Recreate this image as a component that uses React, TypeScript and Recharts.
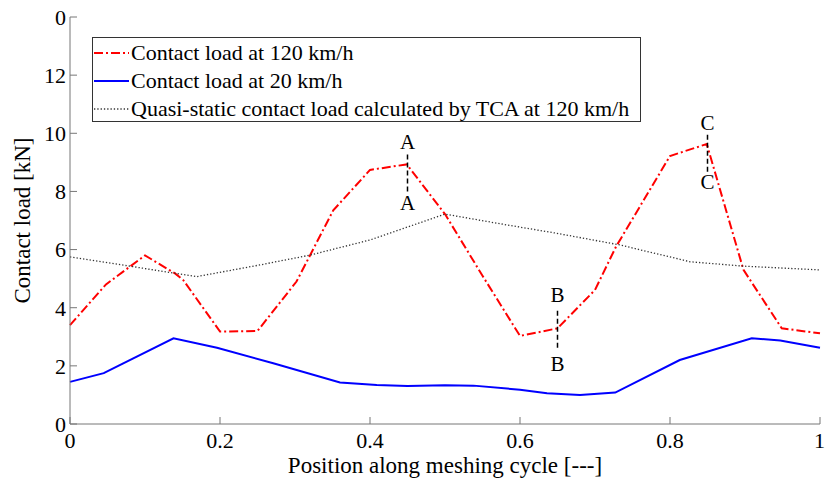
import React from "react";
import {
  LineChart,
  Line,
  XAxis,
  YAxis,
  ReferenceLine,
  ReferenceDot,
} from "recharts";

// contact load at 120 km/h
const posHigh = [0, 0.048, 0.1, 0.14, 0.151, 0.2, 0.25, 0.302, 0.351, 0.4, 0.449, 0.5, 0.55, 0.6, 0.65, 0.7, 0.728, 0.8, 0.849, 0.898, 0.949, 1.0];
const loadHigh = [3.4, 4.8, 5.8, 5.18, 4.95, 3.18, 3.2, 4.9, 7.35, 8.74, 8.93, 7.22, 5.1, 3.03, 3.29, 4.61, 6.1, 9.22, 9.63, 5.3, 3.29, 3.12];

// contact load at 20 km/h
const posLow = [0, 0.045, 0.138, 0.196, 0.271, 0.36, 0.409, 0.45, 0.5, 0.538, 0.6, 0.636, 0.68, 0.727, 0.813, 0.909, 0.947, 1.0];
const loadLow = [1.45, 1.75, 2.95, 2.62, 2.09, 1.43, 1.34, 1.31, 1.33, 1.32, 1.18, 1.06, 1.0, 1.08, 2.2, 2.95, 2.87, 2.62];

// quasi-static (TCA) at 120 km/h
const posTca = [0, 0.169, 0.253, 0.32, 0.4, 0.5, 0.582, 0.649, 0.733, 0.827, 0.898, 1.0];
const loadTca = [5.75, 5.07, 5.47, 5.81, 6.33, 7.22, 6.85, 6.56, 6.16, 5.58, 5.43, 5.3];

const xTicks = [0, 0.2, 0.4, 0.6, 0.8, 1];
const xTickLabels = ["0", "0.2", "0.4", "0.6", "0.8", "1"];
const yTicks = [0, 2, 4, 6, 8, 10, 12, 14];
const yTickLabels = ["0", "2", "4", "6", "8", "10", "12", "0"];

// A / B / C markers
const markNames = ["A", "B", "C"];
const markX = [0.45, 0.65, 0.85];
const markLow = [8.0, 2.62, 8.68];
const markHigh = [9.3, 4.0, 10.05];
const labelTop = [9.73, 4.44, 10.37];
const labelBottom = [7.62, 2.09, 8.33];

const toPoints = (xs: number[], ys: number[]) => xs.map((x, i) => ({ x, y: ys[i] }));

const series = [
  { name: "Contact load at 120 km/h", data: toPoints(posHigh, loadHigh), color: "#ff0000", width: 2, dash: "9 3 2 3" },
  { name: "Contact load at 20 km/h", data: toPoints(posLow, loadLow), color: "#0000ff", width: 2, dash: undefined },
  { name: "Quasi-static contact load calculated by TCA at 120 km/h", data: toPoints(posTca, loadTca), color: "#333333", width: 1.3, dash: "1.3 2" },
];

const FONT = "Liberation Serif, DejaVu Serif, serif";
const AXIS = "#777777";

const ChartLegend = () => (
  <div
    style={{
      position: "absolute",
      left: 92,
      top: 37,
      width: 549,
      height: 85,
      boxSizing: "border-box",
      border: "1px solid #333",
      background: "#fff",
      fontFamily: FONT,
      fontSize: 22,
      paddingTop: 1,
    }}
  >
    {series.map((s) => (
      <div key={s.name} style={{ height: 28, display: "flex", alignItems: "center" }}>
        <svg width={38} height={10} style={{ flex: "none" }}>
          <line x1={1} y1={5} x2={36} y2={5} stroke={s.color} strokeWidth={s.width} strokeDasharray={s.dash} />
        </svg>
        <span style={{ whiteSpace: "nowrap", lineHeight: "28px" }}>{s.name}</span>
      </div>
    ))}
  </div>
);

export default function App() {
  return (
    <div style={{ position: "absolute", left: 0, top: 0, width: 825, height: 484, background: "#fff", fontFamily: FONT }}>
      <LineChart width={825} height={484} margin={{ top: 17, right: 5, bottom: 0, left: 0 }} style={{ fontFamily: FONT }}>
        <XAxis
          dataKey="x"
          type="number"
          domain={[0, 1]}
          ticks={xTicks}
          tickFormatter={(v: number) => xTickLabels[xTicks.indexOf(v)] ?? ""}
          height={60}
          tickSize={-7}
          tickMargin={15}
          stroke={AXIS}
          tick={{ fill: "#000", fontSize: 22, fontFamily: FONT }}
          label={{
            value: "Position along meshing cycle [---]",
            position: "insideBottom",
            offset: 11,
            style: { fill: "#000", fontSize: 23, fontFamily: FONT },
          }}
        />
        <XAxis
          xAxisId="top"
          orientation="top"
          type="number"
          domain={[0, 1]}
          ticks={xTicks}
          height={0}
          tickSize={-7}
          stroke={AXIS}
          tickFormatter={() => ""}
        />
        <YAxis
          type="number"
          domain={[0, 14]}
          ticks={yTicks}
          tickFormatter={(v: number) => yTickLabels[yTicks.indexOf(v)] ?? ""}
          width={70}
          tickSize={-7}
          tickMargin={11}
          stroke={AXIS}
          tick={{ fill: "#000", fontSize: 22, fontFamily: FONT }}
          label={{
            value: "Contact load [kN]",
            angle: -90,
            position: "insideLeft",
            offset: 22,
            style: { textAnchor: "middle", fill: "#000", fontSize: 23, fontFamily: FONT },
          }}
        />
        <YAxis
          yAxisId="right"
          orientation="right"
          type="number"
          domain={[0, 14]}
          ticks={yTicks}
          width={0}
          tickSize={-7}
          stroke={AXIS}
          tickFormatter={() => ""}
        />
        {series.map((s) => (
          <Line
            key={s.name}
            data={s.data}
            dataKey="y"
            name={s.name}
            type="linear"
            stroke={s.color}
            strokeWidth={s.width}
            strokeDasharray={s.dash}
            dot={false}
            activeDot={false}
            isAnimationActive={false}
          />
        ))}
        {markNames.map((m, i) => (
          <ReferenceLine
            key={"l" + m}
            segment={[
              { x: markX[i], y: markLow[i] },
              { x: markX[i], y: markHigh[i] },
            ]}
            stroke="#000"
            strokeWidth={1.5}
            strokeDasharray="5 3"
          />
        ))}
        {markNames.map((m, i) => (
          <ReferenceDot
            key={"t" + m}
            x={markX[i]}
            y={labelTop[i]}
            r={0}
            fill="none"
            stroke="none"
            label={{ value: m, position: "center", style: { fill: "#000", fontSize: 21, fontFamily: FONT } }}
          />
        ))}
        {markNames.map((m, i) => (
          <ReferenceDot
            key={"b" + m}
            x={markX[i]}
            y={labelBottom[i]}
            r={0}
            fill="none"
            stroke="none"
            label={{ value: m, position: "center", style: { fill: "#000", fontSize: 21, fontFamily: FONT } }}
          />
        ))}
      </LineChart>
      <ChartLegend />
    </div>
  );
}
